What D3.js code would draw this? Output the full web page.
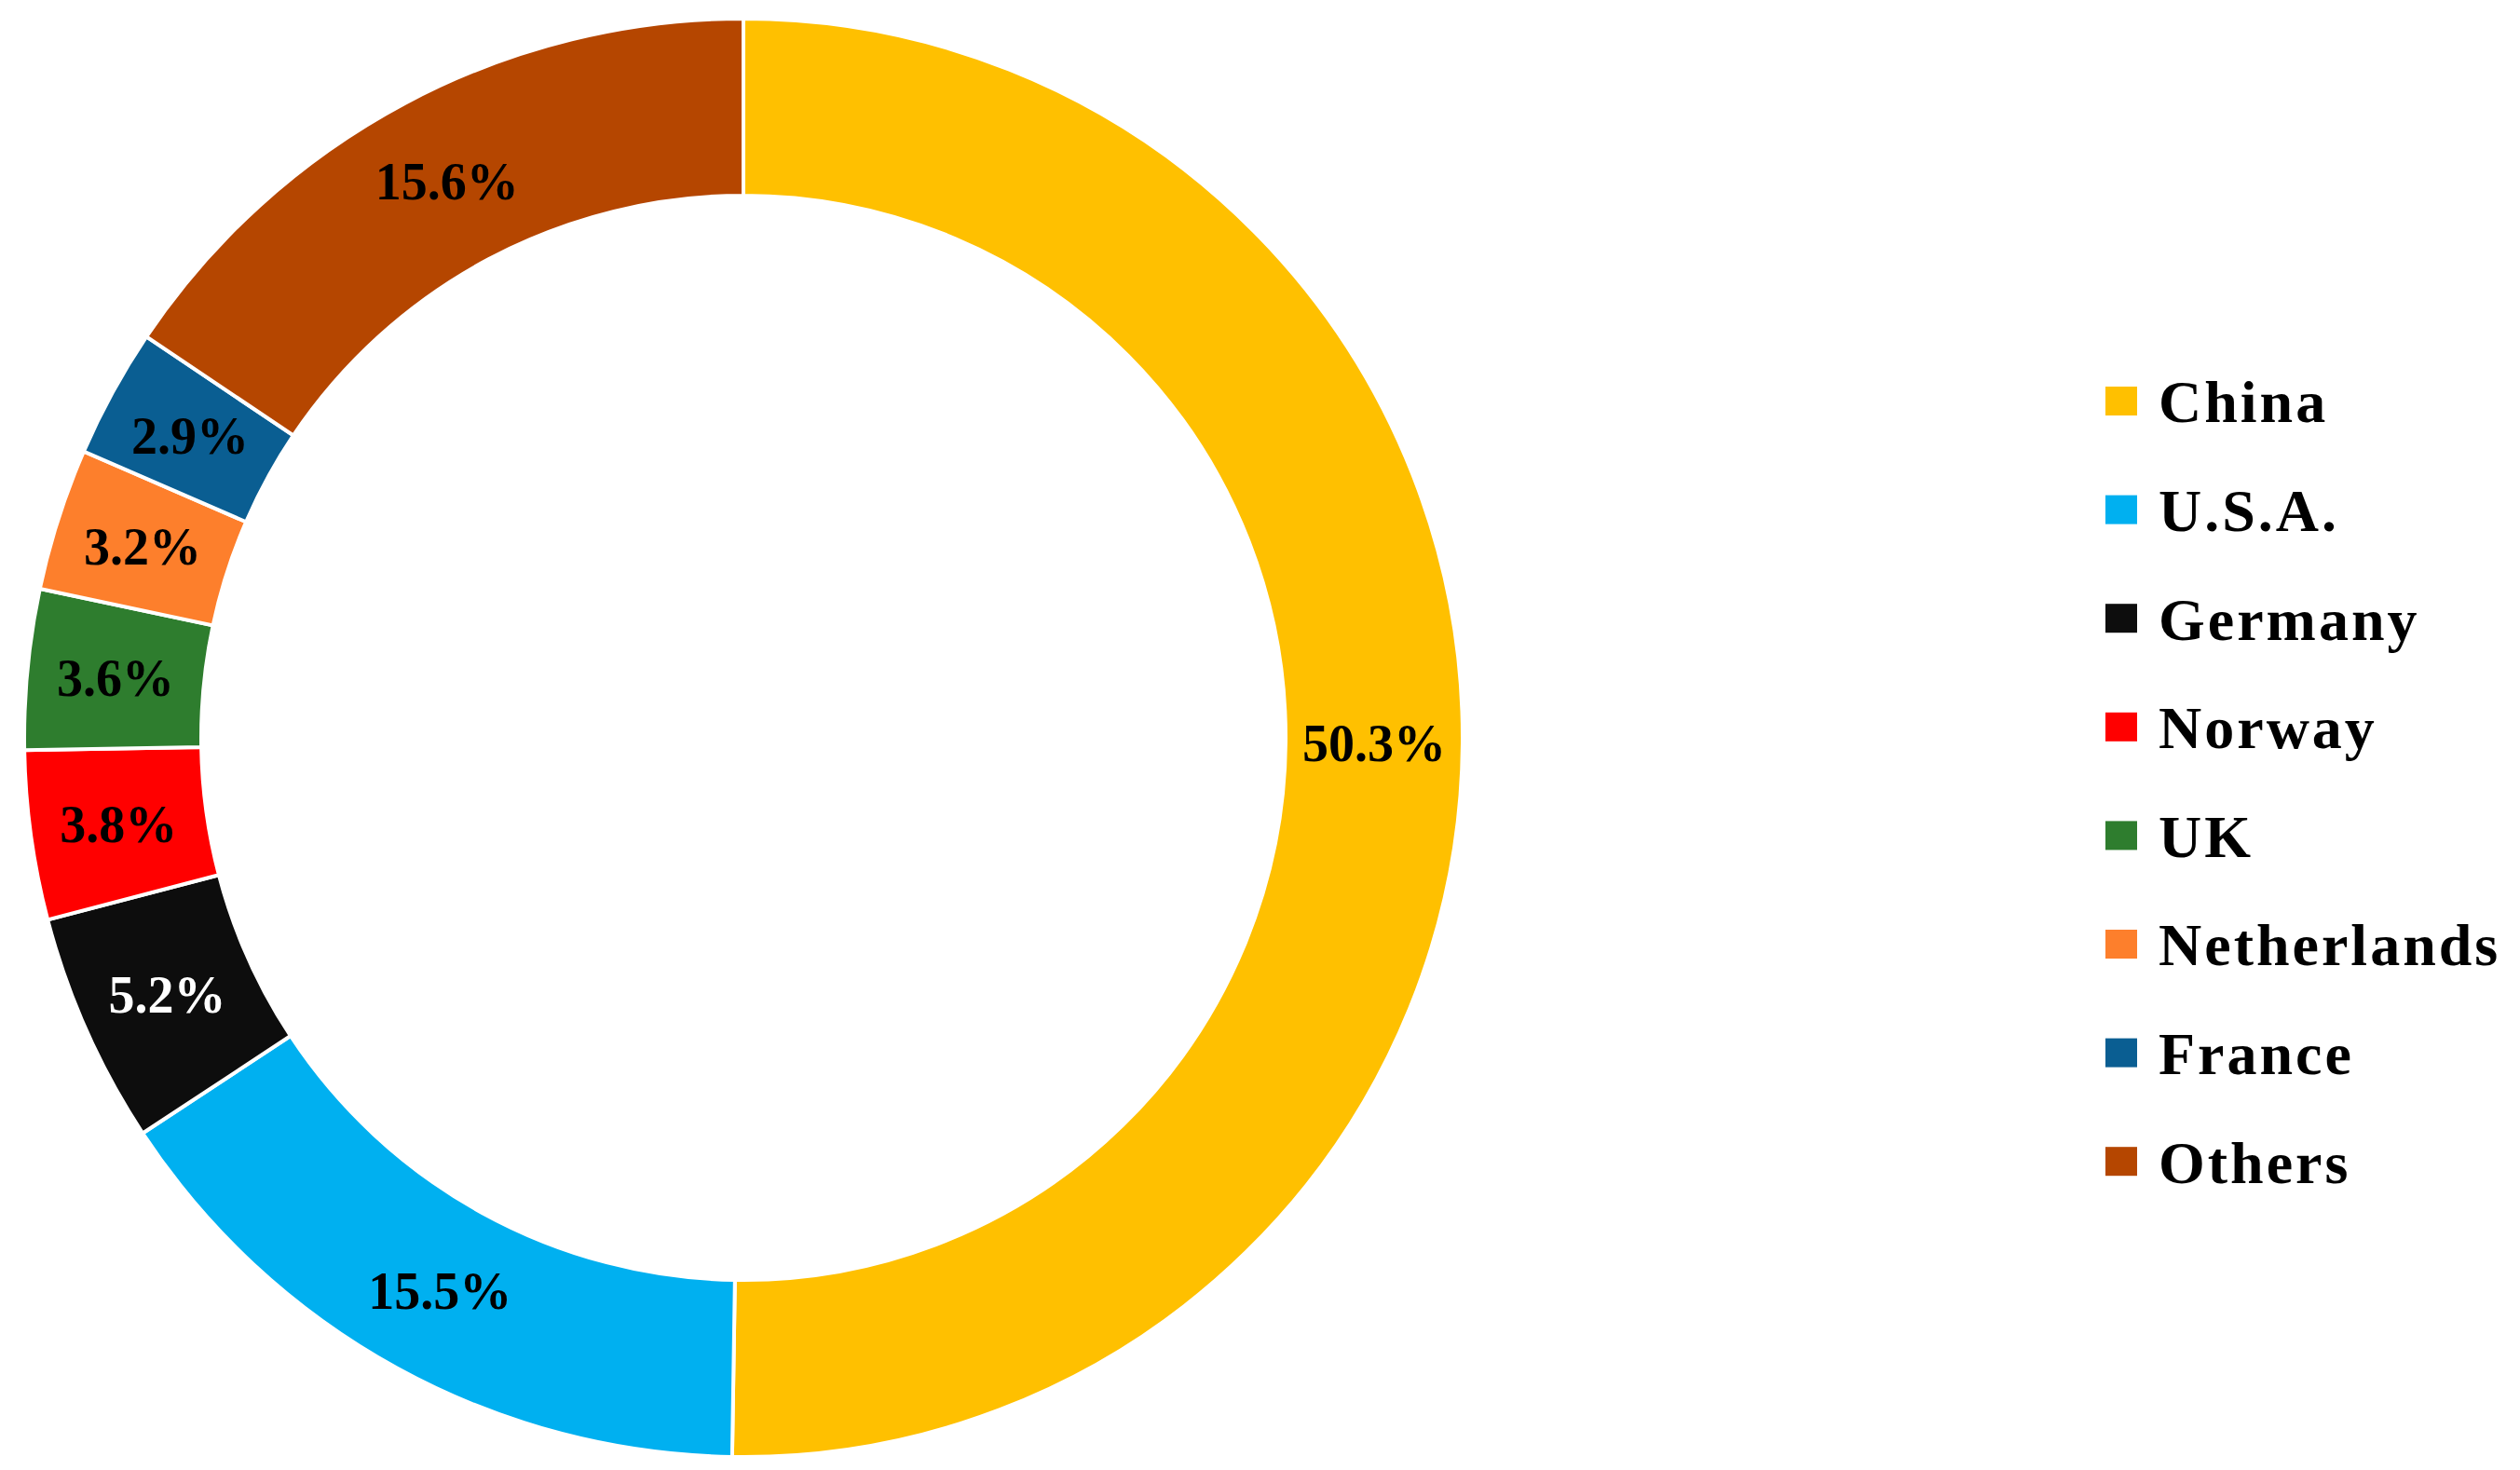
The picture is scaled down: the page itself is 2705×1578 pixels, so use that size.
<!DOCTYPE html>
<html>
<head>
<meta charset="utf-8">
<script src="https://cdn.jsdelivr.net/npm/d3@7"></script>
<style>
  body { margin: 0; background: #fff; }
  text { font-family: "Liberation Serif", "Times New Roman", serif; font-weight: bold; }
</style>
</head>
<body>
<div id="container"></div>
<script>
var countries = ["China", "U.S.A.", "Germany", "Norway", "UK", "Netherlands", "France", "Others"];
var shares = [50.3, 15.5, 5.2, 3.8, 3.6, 3.2, 2.9, 15.6];
var colors = ["#FFC000", "#00B0F0", "#0D0D0D", "#FF0000", "#2E7D2E", "#FD7F2C", "#0A5E92", "#B54600"];
var labelColors = ["#000", "#000", "#fff", "#000", "#000", "#000", "#000", "#000"];

var width = 2705, height = 1578;
var cx = 798, cy = 792, outerR = 772, innerR = 582;

var svg = d3.select("#container").append("svg")
            .attr("width", width)
            .attr("height", height);

var data = countries.map(function(c, i) { return { name: c, value: shares[i], color: colors[i], lc: labelColors[i] }; });

var pie = d3.pie().sort(null).value(function(d) { return d.value; });
var arc = d3.arc().innerRadius(innerR).outerRadius(outerR);
var labelArc = d3.arc().innerRadius((innerR + outerR) / 2).outerRadius((innerR + outerR) / 2);

var g = svg.append("g").attr("transform", "translate(" + cx + "," + cy + ")");

g.selectAll("path")
 .data(pie(data))
 .enter()
 .append("path")
 .attr("d", arc)
 .attr("fill", function(d) { return d.data.color; })
 .attr("stroke", "#fff")
 .attr("stroke-width", 4);

g.selectAll("text")
 .data(pie(data))
 .enter()
 .append("text")
 .attr("transform", function(d) { return "translate(" + labelArc.centroid(d) + ")"; })
 .attr("text-anchor", "middle")
 .attr("dy", "0.35em")
 .style("font-size", "56px")
 .attr("fill", function(d) { return d.data.lc; })
 .text(function(d) { return d.data.value.toFixed(1) + "%"; });

// legend
var legend = svg.append("g").attr("transform", "translate(2260,431)");
var rowH = 116.6;

legend.selectAll("rect")
      .data(data)
      .enter()
      .append("rect")
      .attr("x", 0)
      .attr("y", function(d, i) { return i * rowH - 16; })
      .attr("width", 34)
      .attr("height", 31)
      .attr("fill", function(d) { return d.color; });

legend.selectAll("text")
      .data(data)
      .enter()
      .append("text")
      .attr("x", 57)
      .attr("y", function(d, i) { return i * rowH; })
      .attr("dy", "0.35em")
      .style("font-size", "64px")
      .style("letter-spacing", "3px")
      .attr("fill", "#000")
      .text(function(d) { return d.name; });
</script>
</body>
</html>
